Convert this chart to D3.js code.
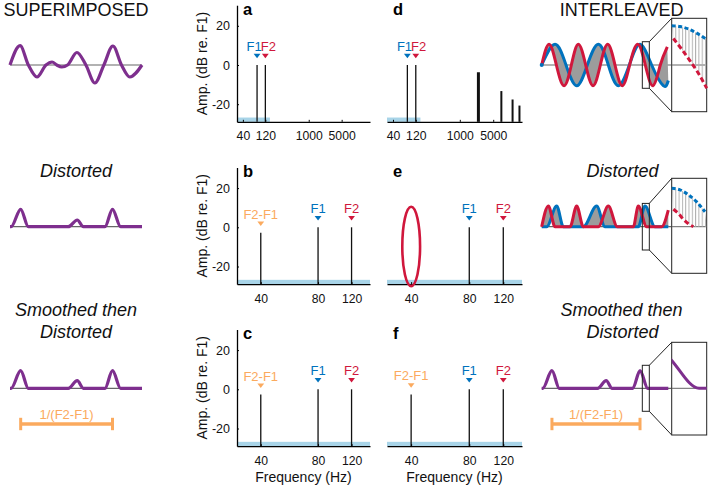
<!DOCTYPE html>
<html><head><meta charset="utf-8">
<script src="https://cdn.jsdelivr.net/npm/d3@7"></script>
<style>body{margin:0;background:#fff}svg{display:block}text{font-family:"Liberation Sans",Arial,Helvetica,sans-serif}</style>
</head><body><svg id="c" width="709" height="485"></svg>
<script>
// ---------------- data ----------------
const wideTicks = [40, 120, 1000, 5000];
const narrowTicks = [40, 80, 120];
const ampTicks = [-20, 0, 20];
const wideDomain = [30, 20000];
const narrowDomain = [30, 150];
const ampDomain = [-29, 30.5];
const bandHz = [30, 150];
const bandDb = [-29, -26.8];

const aFreq = [80, 120], aAmp = [0, 0], aLabel = ["F1", "F2"];
const dFreq = [80, 120, 2450, 7400, 12700, 17700], dAmp = [0, 0, -3.7, -13.3, -17.6, -20.7];
const dLabel = ["F1", "F2", "", "", "", ""];
const bFreq = [40, 80, 120], bAmp = [-2.8, 0, 0], bLabel = ["F2-F1", "F1", "F2"];
const eFreq = [80, 120], eAmp = [0, 0], eLabel = ["F1", "F2"];
const eRingHz = [36, 44.5], eRingDb = [-30, 10.5];
const cFreq = [40, 80, 120], cAmp = [-2.7, 0, 0], cLabel = ["F2-F1", "F1", "F2"];
const fFreq = [40, 80, 120], fAmp = [-2.6, 0, 0], fLabel = ["F2-F1", "F1", "F2"];

// waveforms (time in ms, amplitude in component units)
const superT = [0, 2.8, 5.1, 7.5, 10.0, 11.7, 13.0, 14.4, 16.0, 18.6, 21.1, 23.6, 26.1, 28.6, 31.0, 33.3, 36.7];
const superA = [0, 1.93, 0, -1.2, 0, 0.3, 0, -0.2, 0, 1.25, 0, -1.8, 0, 1.9, 0, -1.2, 0];
const distT = [0, 0.3, 2.97, 5.1, 16.2, 18.7, 20.4, 26.4, 28.5, 30.75, 36.7];
const distA = [0, 0, 1.74, 0, 0, 0.67, 0, 0, 1.74, 0, 0];
const smoothA = [0, 0, 1.77, 0, 0, 0.76, 0, 0, 1.77, 0, 0];

const ilBlueT = [0, 4, 7.3, 10.5, 13.7, 17, 20, 23, 26.3, 29.5, 33, 36.5, 38];
const ilBlueA = [0, 1, 0, -1, 0, 1, 0, -1, 0, 1, 0, -1, -0.75];
const ilRedT = [0, 2.2, 4.4, 6.7, 8.9, 11, 13.2, 15.4, 17.6, 19.8, 22, 24.2, 26.4, 28.8, 31.1, 33.4, 35.6, 37.7];
const ilRedA = [0, 1, 0, -1, 0, 1, 0, -1, 0, 1, 0, -1, 0, 1, 0, -1, 0, 0.88];

const dsRedT = [0, 2, 4, 8.5, 10.5, 12.5, 17, 20, 22.7, 27.5, 29, 31.5, 36, 38];
const dsRedA = [0, 1, 0, 0, 1, 0, 0, 1, 0, 0, 1, 0, 0, 0.8];
const dsBlueT = [0, 1.5, 4.5, 6.5, 12.5, 16.5, 19, 29, 31, 34, 38];
const dsBlueA = [0, 0, 1, 0, 0, 1, 0, 0, 1, 0, 0];

const boxT = [30.2, 32.3];
const boxBlueT = [30.2, 30.7, 31.2, 31.7, 32.3], boxBlueA = [0.95, 0.93, 0.87, 0.77, 0.62];
const boxRedT = [30.3, 30.8, 31.3, 31.8, 32.3], boxRedA = [0.64, 0.38, 0.1, -0.2, -0.56];
const boxDsBlueT = [30.2, 30.7, 31.2, 31.7, 32.2], boxDsBlueA = [0.93, 0.89, 0.77, 0.6, 0.36];
const boxDsRedT = [30.3, 30.6, 30.9, 31.2, 31.5], boxDsRedA = [0.42, 0.32, 0.18, 0.07, 0];

// ---------------- drawing ----------------
const BLUE = "#0072BD", RED = "#D0173C", ORANGE = "#FBAA5E", PURPLE = "#7E2F8E", LBLUE = "#A8D4E8";
const labelColor = {"F1": BLUE, "F2": RED, "F2-F1": ORANGE};
const svg = d3.select("#c");
const defs = svg.append("defs");
defs.append("pattern").attr("id", "vl").attr("patternUnits", "userSpaceOnUse")
  .attr("width", 3.3).attr("height", 10).attr("x", 672)
  .append("line").attr("x1", 0.5).attr("x2", 0.5).attr("y1", 0).attr("y2", 10)
  .attr("stroke", "#b0b0b0").attr("stroke-width", 1);

const colX = [[237, 370], [387, 522]];
const rowZero = [65, 227.3, 389.3];
const ppd = 1.96;

const panels = [
  {L: "a", col: 0, row: 0, dom: wideDomain, ticks: wideTicks, f: aFreq, a: aAmp, lab: aLabel},
  {L: "d", col: 1, row: 0, dom: wideDomain, ticks: wideTicks, f: dFreq, a: dAmp, lab: dLabel},
  {L: "b", col: 0, row: 1, dom: narrowDomain, ticks: narrowTicks, f: bFreq, a: bAmp, lab: bLabel},
  {L: "e", col: 1, row: 1, dom: narrowDomain, ticks: narrowTicks, f: eFreq, a: eAmp, lab: eLabel},
  {L: "c", col: 0, row: 2, dom: narrowDomain, ticks: narrowTicks, f: cFreq, a: cAmp, lab: cLabel},
  {L: "f", col: 1, row: 2, dom: narrowDomain, ticks: narrowTicks, f: fFreq, a: fAmp, lab: fLabel}
];

panels.forEach(p => {
  const [x0, x1] = colX[p.col];
  const yz = rowZero[p.row];
  const x = d3.scaleLog().domain(p.dom).range([x0, x1]);
  const y = d3.scaleLinear().domain(ampDomain).range([yz - ampDomain[0] * ppd, yz - ampDomain[1] * ppd]);
  const g = svg.append("g");
  const bx0 = x(Math.max(bandHz[0], p.dom[0])), bx1 = x(Math.min(bandHz[1], p.dom[1]));
  g.append("rect").attr("x", bx0).attr("width", bx1 - bx0)
    .attr("y", y(bandDb[1])).attr("height", y(bandDb[0]) - y(bandDb[1])).attr("fill", LBLUE);
  // bars
  g.selectAll("line.bar").data(p.f).join("line")
    .attr("x1", d => x(d)).attr("x2", d => x(d))
    .attr("y1", (d, i) => y(p.a[i])).attr("y2", y(ampDomain[0]))
    .attr("stroke", "#111")
    .attr("stroke-width", (d, i) => p.L === "d" && i === 2 ? 3 : (p.L === "d" && i > 2 ? 2 : 1.3));
  // x axis
  const xa = d3.axisBottom(x).tickValues(p.ticks).tickFormat(d => String(d))
    .tickSizeInner(-2).tickSizeOuter(0).tickPadding(10);
  const ga = g.append("g").attr("transform", `translate(0,${y(ampDomain[0])})`).call(xa);
  ga.select(".domain").attr("stroke", "#000").attr("stroke-width", 1.3);
  ga.selectAll(".tick line").attr("stroke", "#000");
  ga.selectAll("text").attr("font-size", 12.2).attr("fill", "#111")
    .style("font-family", '"Liberation Sans", Arial, sans-serif');
  if (p.col === 0) {
    const ya = d3.axisLeft(y).tickValues(ampTicks).tickFormat(d => String(d))
      .tickSizeInner(-2).tickSizeOuter(0).tickPadding(7);
    const gy = g.append("g").attr("transform", `translate(${x0},0)`).call(ya);
    gy.select(".domain").attr("stroke", "#000").attr("stroke-width", 1.3);
    gy.selectAll(".tick line").attr("stroke", "#000");
    gy.selectAll("text").attr("font-size", 12.5).attr("fill", "#111")
      .style("font-family", '"Liberation Sans", Arial, sans-serif');
    g.append("text").attr("transform", `translate(${x0 - 30},${(y(ampDomain[0]) + y(ampDomain[1])) / 2}) rotate(-90)`)
      .attr("text-anchor", "middle").attr("font-size", 14).attr("fill", "#111").text("Amp. (dB re. F1)");
  }
  // panel letter
  g.append("text").attr("x", x0 + 6).attr("y", yz - 50.5).attr("font-size", 16.5).attr("font-weight", "bold")
    .attr("fill", "#000").text(p.L);
  // markers
  p.f.forEach((f, i) => {
    const lab = p.lab[i];
    if (!lab) return;
    const cx = x(f), top = y(p.a[i]);
    const col = labelColor[lab];
    const cy = top - 9;
    g.append("path").attr("d", `M${cx - 3.4},${cy - 2.2}L${cx + 3.4},${cy - 2.2}L${cx},${cy + 2.3}Z`).attr("fill", col);
    const t = g.append("text").attr("y", top - 14).attr("font-size", 13).attr("fill", col).text(lab);
    if (p.row === 0) {
      const mid = (x(p.f[0]) + x(p.f[1])) / 2;
      t.attr("x", mid + (i === 0 ? 0.5 : -0.5)).attr("text-anchor", i === 0 ? "end" : "start");
    } else {
      t.attr("x", cx).attr("text-anchor", "middle");
    }
  });
  if (p.L === "e") {
    const ex0 = x(eRingHz[0]), ex1 = x(eRingHz[1]);
    const ey0 = y(eRingDb[1]), ey1 = y(eRingDb[0]);
    g.append("ellipse").attr("cx", (ex0 + ex1) / 2).attr("cy", (ey0 + ey1) / 2)
      .attr("rx", (ex1 - ex0) / 2).attr("ry", (ey1 - ey0) / 2)
      .attr("fill", "none").attr("stroke", RED).attr("stroke-width", 2.6);
  }
  if (p.row === 2) {
    g.append("text").attr("x", (x0 + x1) / 2).attr("y", 481.5).attr("text-anchor", "middle")
      .attr("font-size", 14).attr("fill", "#111").text("Frequency (Hz)");
  }
});

// ---------- titles ----------
function title(txt, x, y, italic) {
  svg.append("text").attr("x", x).attr("y", y).attr("text-anchor", "middle").attr("font-size", 18)
    .attr("font-style", italic ? "italic" : "normal").attr("fill", "#111").text(txt);
}
title("SUPERIMPOSED", 76, 15.5, false);
title("INTERLEAVED", 621.7, 16, false);
title("Distorted", 76, 176.7, true);
title("Distorted", 622.5, 176.7, true);
title("Smoothed then", 76, 316, true);
title("Distorted", 76, 338, true);
title("Smoothed then", 621.5, 316, true);
title("Distorted", 622.5, 338, true);

// ---------- waveforms ----------
const xL = d3.scaleLinear().domain([0, 36.7]).range([10, 142]);
const xR = d3.scaleLinear().domain([0, 38]).range([541.7, 668.3]);
const xRb = d3.scaleLinear().domain([0, 36.7]).range([541.7, 668.3]);
const zip = (T, A) => T.map((t, i) => [t, A[i]]);

function baseline(x0, x1, y) {
  svg.append("line").attr("x1", x0).attr("x2", x1).attr("y1", y).attr("y2", y)
    .attr("stroke", "#666").attr("stroke-width", 1.2);
}
function wave(T, A, xs, ys, curve, color, w, dash) {
  const line = d3.line().x(d => xs(d[0])).y(d => ys(d[1])).curve(curve);
  const p = svg.append("path").attr("d", line(zip(T, A))).attr("fill", "none")
    .attr("stroke", color).attr("stroke-width", w).attr("stroke-linejoin", "round");
  if (dash) p.attr("stroke-dasharray", dash);
  return p;
}
function between(T1, A1, T2, A2, xs, ys, curve, fill, extra) {
  const line = d3.line().x(d => xs(d[0])).y(d => ys(d[1])).curve(curve);
  const p1 = line(zip(T1, A1));
  const pts2 = zip(T2, A2).reverse();
  if (extra) pts2.unshift(extra);
  const p2 = line(pts2).replace(/^M/, "L");
  svg.append("path").attr("d", p1 + p2 + "Z").attr("fill", fill).attr("stroke", "none");
}

// left column
const yS = d3.scaleLinear().domain([-1, 1]).range([75, 55]);
baseline(10, 142, yS(0));
wave(superT, superA, xL, yS, d3.curveMonotoneX, PURPLE, 3.2);
const yD = d3.scaleLinear().domain([-1, 1]).range([236.7, 216.7]);
baseline(10, 142, yD(0));
wave(distT, distA, xL, yD, d3.curveMonotoneX, PURPLE, 3.2);
const ySm = d3.scaleLinear().domain([-1, 1]).range([398.3, 378.3]);
baseline(10, 142, ySm(0));
wave(distT, smoothA, xL, ySm, d3.curveMonotoneX, PURPLE, 3.2);
// ruler 1/(F2-F1)
{
  const rx0 = xL(distT[2]), rx1 = xL(distT[8]), ry = 424;
  svg.append("line").attr("x1", rx0).attr("x2", rx1).attr("y1", ry).attr("y2", ry).attr("stroke", ORANGE).attr("stroke-width", 3.5);
  [rx0, rx1].forEach(xx => svg.append("line").attr("x1", xx).attr("x2", xx).attr("y1", ry - 6.2).attr("y2", ry + 6.2).attr("stroke", ORANGE).attr("stroke-width", 3));
  svg.append("text").attr("x", (rx0 + rx1) / 2).attr("y", 419).attr("text-anchor", "middle").attr("font-size", 13).attr("fill", ORANGE).text("1/(F2-F1)");
}

// right column
function zoomBox(yC, smallHalf, bigTop, bigBot) {
  const sx0 = xR(boxT[0]), sx1 = xR(boxT[1]);
  const bx0 = 671.7, bx1 = 706.7;
  svg.append("rect").attr("x", sx0).attr("y", yC - smallHalf).attr("width", sx1 - sx0).attr("height", 2 * smallHalf)
    .attr("fill", "none").attr("stroke", "#222").attr("stroke-width", 1);
  svg.append("line").attr("x1", sx1).attr("y1", yC - smallHalf).attr("x2", bx0).attr("y2", bigTop).attr("stroke", "#222");
  svg.append("line").attr("x1", sx1).attr("y1", yC + smallHalf).attr("x2", bx0).attr("y2", bigBot).attr("stroke", "#222");
  svg.append("rect").attr("x", bx0).attr("y", bigTop).attr("width", bx1 - bx0).attr("height", bigBot - bigTop)
    .attr("fill", "#fff").attr("stroke", "#222").attr("stroke-width", 1);
  return {bx0, bx1};
}

// top right (interleaved)
const yI = d3.scaleLinear().domain([-1, 1]).range([85.7, 44.3]);
baseline(541.7, 671.7, yI(0));
between(ilBlueT, ilBlueA, ilRedT, ilRedA, xR, yI, d3.curveNatural, "#9c9c9c");
wave(ilBlueT, ilBlueA, xR, yI, d3.curveNatural, BLUE, 3);
wave(ilRedT, ilRedA, xR, yI, d3.curveNatural, RED, 3);
svg.append("circle").attr("cx", xR(ilBlueT[0])).attr("cy", yI(ilBlueA[0])).attr("r", 2).attr("fill", BLUE);
{
  const b = zoomBox(yI(0), 23.3, 18.3, 111.7);
  const zx = d3.scaleLinear().domain(boxT).range([b.bx0, b.bx1]);
  const zy = d3.scaleLinear().domain([-1, 1]).range([65 + 41.4, 65 - 41.4]);
  svg.append("line").attr("x1", b.bx0).attr("x2", b.bx1).attr("y1", zy(0)).attr("y2", zy(0)).attr("stroke", "#666");
  between(boxBlueT, boxBlueA, boxRedT, boxRedA, zx, zy, d3.curveMonotoneX, "url(#vl)");
  wave(boxBlueT, boxBlueA, zx, zy, d3.curveMonotoneX, BLUE, 3, "4,2.5");
  wave(boxRedT, boxRedA, zx, zy, d3.curveMonotoneX, RED, 3, "5,3");
}

// middle right (interleaved distorted)
const yDI = d3.scaleLinear().domain([-1, 1]).range([247.4, 206]);
baseline(541.7, 671.7, yDI(0));
between(dsBlueT, dsBlueA, dsRedT, dsRedA, xR, yDI, d3.curveMonotoneX, "#9c9c9c");
wave(dsBlueT, dsBlueA, xR, yDI, d3.curveMonotoneX, BLUE, 3);
wave(dsRedT, dsRedA, xR, yDI, d3.curveMonotoneX, RED, 3);
{
  const b = zoomBox(yDI(0), 23.3, 178.3, 273.3);
  const zx = d3.scaleLinear().domain(boxT).range([b.bx0, b.bx1]);
  const zy = d3.scaleLinear().domain([-1, 1]).range([226.7 + 41.4, 226.7 - 41.4]);
  svg.append("line").attr("x1", b.bx0).attr("x2", b.bx1).attr("y1", zy(0)).attr("y2", zy(0)).attr("stroke", "#666");
  between(boxDsBlueT, boxDsBlueA, boxDsRedT, boxDsRedA, zx, zy, d3.curveMonotoneX, "url(#vl)", [boxT[1], 0]);
  wave(boxDsBlueT, boxDsBlueA, zx, zy, d3.curveMonotoneX, BLUE, 3, "4,2.5");
  wave(boxDsRedT, boxDsRedA, zx, zy, d3.curveMonotoneX, RED, 3, "5,3");
}

// bottom right (smoothed then distorted, interleaved)
const ySR = d3.scaleLinear().domain([-1, 1]).range([398.3, 378.3]);
baseline(541.7, 671.7, ySR(0));
wave(distT, smoothA, xRb, ySR, d3.curveMonotoneX, PURPLE, 3.2);
{
  const tb = [xRb.invert(xR(boxT[0])), xRb.invert(xR(boxT[1]))];
  const b = zoomBox(ySR(0), 23, 342.3, 435);
  const zx = d3.scaleLinear().domain(tb).range([b.bx0, b.bx1]);
  const zy = d3.scaleLinear().domain([-1, 1]).range([388.3 + 20, 388.3 - 20]);
  svg.append("line").attr("x1", b.bx0).attr("x2", b.bx1).attr("y1", zy(0)).attr("y2", zy(0)).attr("stroke", "#666");
  defs.append("clipPath").attr("id", "cb").append("rect").attr("x", b.bx0).attr("y", 342.3).attr("width", b.bx1 - b.bx0).attr("height", 92.7);
  wave(distT, smoothA, zx, zy, d3.curveMonotoneX, PURPLE, 3).attr("clip-path", "url(#cb)");
}
// ruler right
{
  const rx0 = xRb(distT[2]), rx1 = xRb(distT[8]), ry = 424;
  svg.append("line").attr("x1", rx0).attr("x2", rx1).attr("y1", ry).attr("y2", ry).attr("stroke", ORANGE).attr("stroke-width", 3.5);
  [rx0, rx1].forEach(xx => svg.append("line").attr("x1", xx).attr("x2", xx).attr("y1", ry - 6.2).attr("y2", ry + 6.2).attr("stroke", ORANGE).attr("stroke-width", 3));
  svg.append("text").attr("x", (rx0 + rx1) / 2).attr("y", 419).attr("text-anchor", "middle").attr("font-size", 13).attr("fill", ORANGE).text("1/(F2-F1)");
}
</script></body></html>
